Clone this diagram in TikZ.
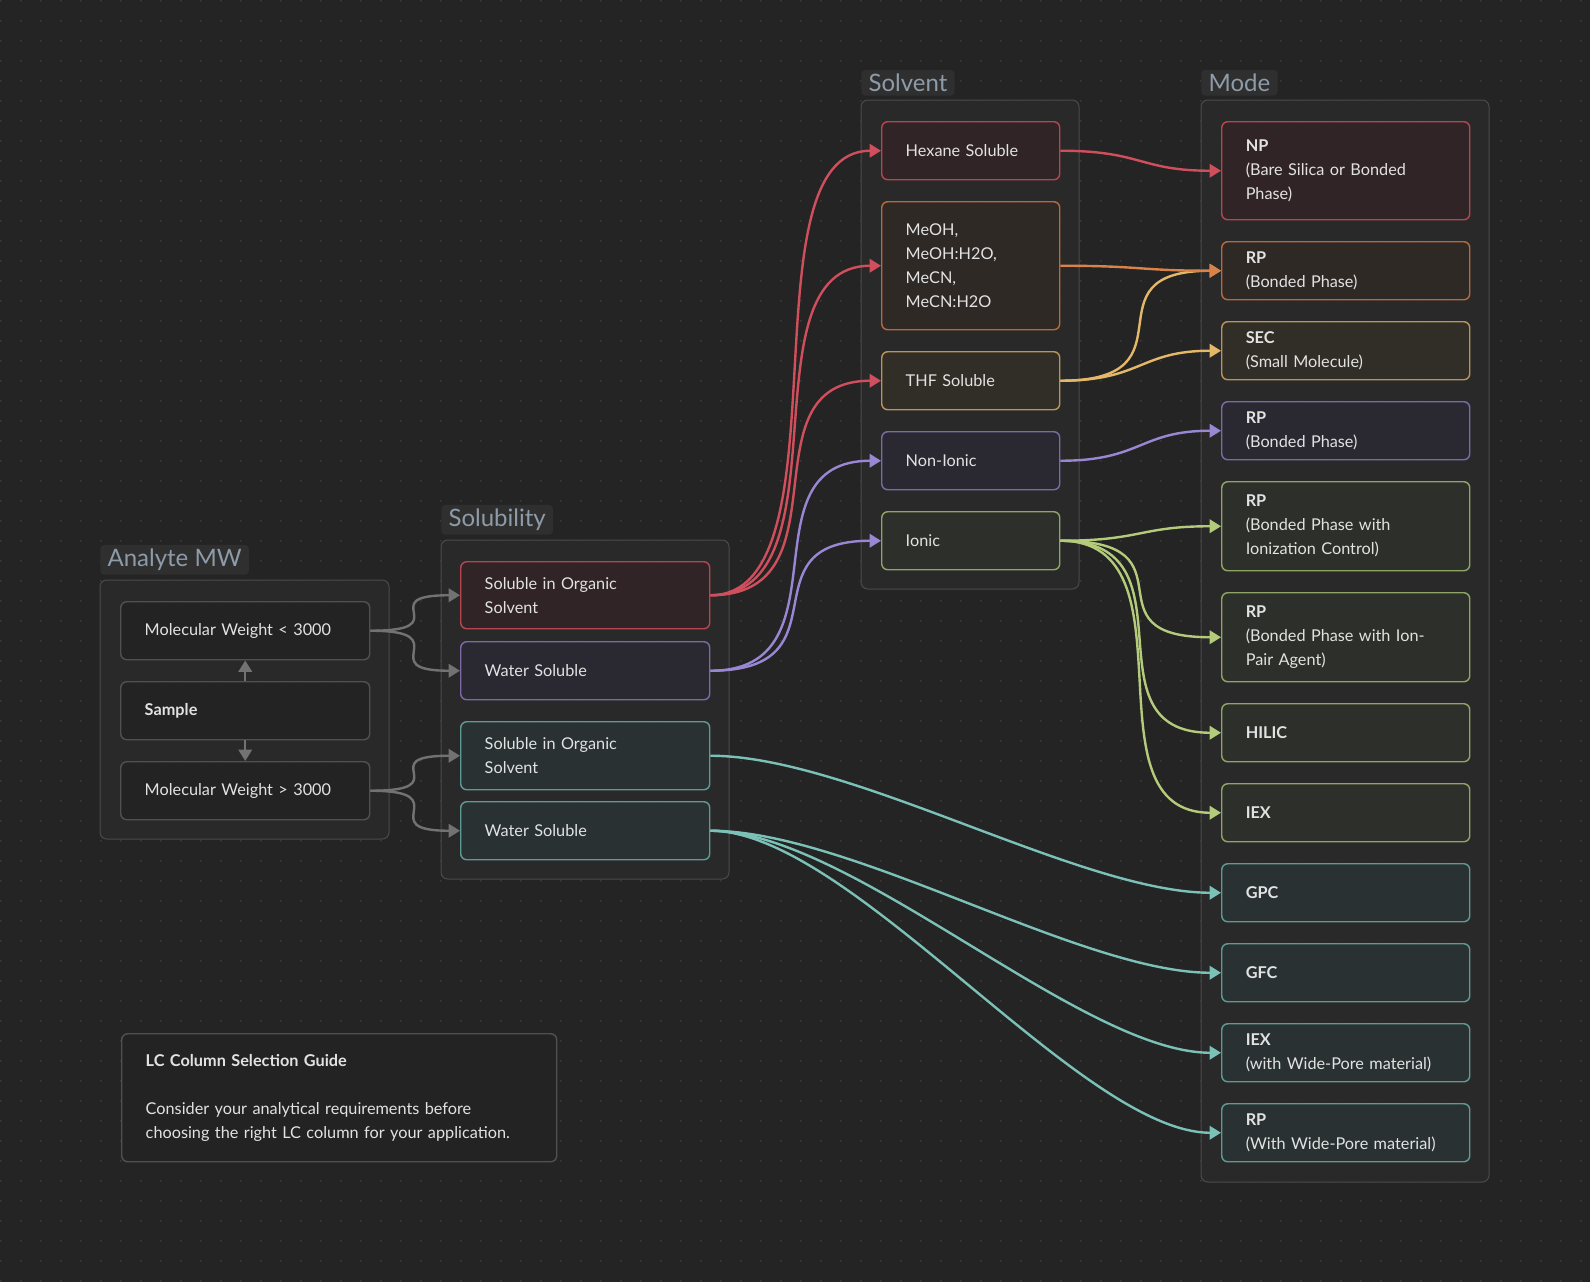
\documentclass[tikz,border=0pt]{standalone}
\usepackage{fontspec}
\setmainfont{Lato}
\usetikzlibrary{arrows.meta,calc}
\pgfdeclarelayer{bg}
\pgfsetlayers{bg,main}
\definecolor{bgc}{HTML}{242424}
\definecolor{dotc}{HTML}{3A3A3A}
\definecolor{grpf}{HTML}{2A2A2A}
\definecolor{grpb}{HTML}{4B4B4B}
\definecolor{lblf}{HTML}{2F2F2F}
\definecolor{lblt}{HTML}{8E9BA8}
\definecolor{txt}{HTML}{E2E2E2}
\definecolor{nbf}{HTML}{232323}
\definecolor{nbb}{HTML}{505050}
\definecolor{redf}{HTML}{302427}
\definecolor{redb}{HTML}{B4464F}
\definecolor{rede}{HTML}{D04F5D}
\definecolor{orf}{HTML}{2F2926}
\definecolor{orb}{HTML}{B66A3C}
\definecolor{ore}{HTML}{D9824A}
\definecolor{gof}{HTML}{312D27}
\definecolor{gob}{HTML}{B89458}
\definecolor{goe}{HTML}{E5B869}
\definecolor{puf}{HTML}{2A2932}
\definecolor{pub}{HTML}{7B6AA6}
\definecolor{pue}{HTML}{9A87D4}
\definecolor{grf}{HTML}{2D2F2A}
\definecolor{grb}{HTML}{8EA565}
\definecolor{gre}{HTML}{B3CB7B}
\definecolor{tef}{HTML}{293133}
\definecolor{teb}{HTML}{5F9A92}
\definecolor{tee}{HTML}{7CC1B7}
\definecolor{gye}{HTML}{727272}
\tikzset{
  nbox/.style={draw, rounded corners=4.5pt, line width=1.1pt, text=txt,
    font=\fontsize{12.2}{18}\selectfont, align=left},
  neutral/.style={nbox, draw=nbb, fill=nbf},
  redn/.style={nbox, draw=redb, fill=redf},
  orn/.style={nbox, draw=orb, fill=orf},
  gon/.style={nbox, draw=gob, fill=gof},
  pun/.style={nbox, draw=pub, fill=puf},
  grn/.style={nbox, draw=grb, fill=grf},
  ten/.style={nbox, draw=teb, fill=tef},
  edge/.style={line width=1.8pt, -{Triangle[length=8.5pt,width=10pt]}},
  grp/.style={draw=grpb, fill=grpf, fill opacity=0.85, rounded corners=5pt, line width=0.75pt},
  glabel/.style={fill=lblf, rounded corners=3pt, text=lblt,
    font=\fontsize{18}{21}\selectfont, inner xsep=5.5pt, inner ysep=3pt, anchor=south west},
}
\newcommand\nd[7]{%
  \pgfmathsetmacro\ndh{(#6-#4)*0.75}%
  \pgfmathsetmacro\ndtw{(#5-#3-48)*0.75}%
  \node[#1, anchor=north west, minimum height=\ndh pt, text width=\ndtw pt,
        inner xsep=18pt, inner ysep=0pt] (#2) at (#3,#4) {#7};}
\newcommand\edg[4][105pt]{%
  \draw[edge,#2] let \p1=(#3.east), \p2=(#4.west), \n1={min(\x2-\x1,#1)} in
    (\p1) .. controls ({\x1+\n1},\y1) and ({\x2-\n1},\y2) .. (\p2);}
\begin{document}
\begin{tikzpicture}[x=0.75pt,y=-0.75pt]
\begin{pgfonlayer}{bg}
  \fill[bgc] (0,0) rectangle (1590,1282);
  \useasboundingbox (0,0) rectangle (1590,1282);
  \fill[dotc] \foreach \i in {0,...,79}{\foreach \j in {0,...,64}{(\i*20,\j*20) rectangle ++(1.6,1.6)}};
  % groups
  \draw[grp] (100,580) rectangle (389,839);
  \draw[grp] (441,540) rectangle (729,879);
  \draw[grp] (861,100) rectangle (1079,589);
  \draw[grp] (1201,100) rectangle (1489,1182);
  \node[glabel] (lblA) at (100,575) {Analyte MW};
  \node[glabel] (lblB) at (441,535) {Solubility};
  \node[glabel] (lblC) at (861,96) {Solvent};
  \node[glabel] (lblD) at (1201,96) {Mode};
\end{pgfonlayer}
% Analyte MW
\nd{neutral}{mw1}{120}{601}{369}{659}{Molecular Weight < 3000}
\nd{neutral}{sample}{120}{681}{369}{739}{\textbf{Sample}}
\nd{neutral}{mw2}{120}{761}{369}{819}{Molecular Weight > 3000}
% Solubility
\nd{redn}{s1}{460}{561}{709}{628}{Soluble in Organic\\Solvent}
\nd{pun}{s2}{460}{641}{709}{699}{Water Soluble}
\nd{ten}{s3}{460}{721}{709}{789}{Soluble in Organic\\Solvent}
\nd{ten}{s4}{460}{801}{709}{859}{Water Soluble}
% Solvent
\nd{redn}{hex}{881}{121}{1059}{179}{Hexane Soluble}
\nd{orn}{meoh}{881}{201}{1059}{329}{MeOH,\\MeOH:H2O,\\MeCN,\\MeCN:H2O}
\nd{gon}{thf}{881}{351}{1059}{409}{THF Soluble}
\nd{pun}{nonion}{881}{431}{1059}{489}{Non-Ionic}
\nd{grn}{ionic}{881}{511}{1059}{569}{Ionic}
% Mode
\nd{redn}{np}{1221}{121}{1469}{219}{\textbf{NP}\\(Bare Silica or Bonded\\Phase)}
\nd{orn}{rpa}{1221}{241}{1469}{299}{\textbf{RP}\\(Bonded Phase)}
\nd{gon}{sec}{1221}{321}{1469}{379}{\textbf{SEC}\\(Small Molecule)}
\nd{pun}{rpb}{1221}{401}{1469}{459}{\textbf{RP}\\(Bonded Phase)}
\nd{grn}{rpc}{1221}{481}{1469}{570}{\textbf{RP}\\(Bonded Phase with\\Ionization Control)}
\nd{grn}{rpd}{1221}{592}{1469}{681}{\textbf{RP}\\(Bonded Phase with Ion-\\Pair Agent)}
\nd{grn}{hilic}{1221}{703}{1469}{761}{\textbf{HILIC}}
\nd{grn}{iex}{1221}{783}{1469}{841}{\textbf{IEX}}
\nd{ten}{gpc}{1221}{863}{1469}{921}{\textbf{GPC}}
\nd{ten}{gfc}{1221}{943}{1469}{1001}{\textbf{GFC}}
\nd{ten}{iexw}{1221}{1023}{1469}{1081}{\textbf{IEX}\\(with Wide-Pore material)}
\nd{ten}{rpw}{1221}{1103}{1469}{1161}{\textbf{RP}\\(With Wide-Pore material)}
% Guide
\nd{neutral}{guide}{121}{1033}{556}{1161}{\textbf{LC Column Selection Guide}\\[18pt]Consider your analytical requirements before\\choosing the right LC column for your application.}
% Edges
\draw[edge,gye] (sample.north) -- (mw1.south);
\draw[edge,gye] (sample.south) -- (mw2.north);
\edg{gye}{mw1}{s1}
\edg{gye}{mw1}{s2}
\edg{gye}{mw2}{s3}
\edg{gye}{mw2}{s4}
\edg{rede}{s1}{hex}
\edg{rede}{s1}{meoh}
\edg{rede}{s1}{thf}
\edg{pue}{s2}{nonion}
\edg{pue}{s2}{ionic}
\edg{tee}{s3}{gpc}
\edg{tee}{s4}{gfc}
\edg{tee}{s4}{iexw}
\edg{tee}{s4}{rpw}
\edg[61pt]{rede}{hex}{np}
\edg{goe}{thf}{rpa}
\edg[61pt]{goe}{thf}{sec}
\edg[61pt]{ore}{meoh}{rpa}
\edg[61pt]{pue}{nonion}{rpb}
\edg[61pt]{gre}{ionic}{rpc}
\edg{gre}{ionic}{rpd}
\edg{gre}{ionic}{hilic}
\edg{gre}{ionic}{iex}
\end{tikzpicture}
\end{document}
